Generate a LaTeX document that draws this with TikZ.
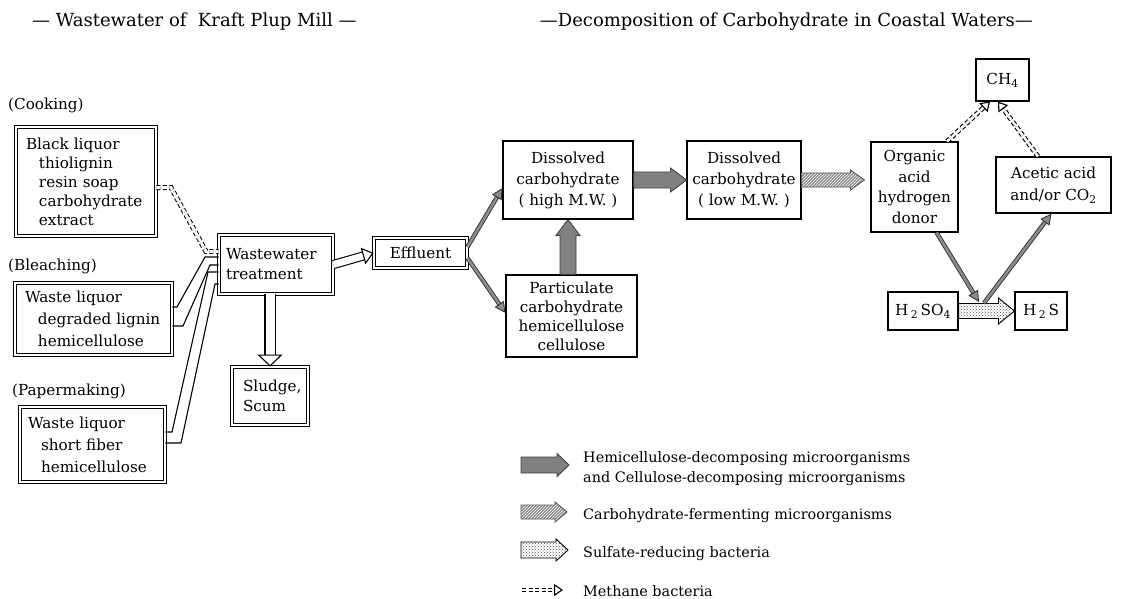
\documentclass[tikz,border=0pt]{standalone}
\usepackage{fontspec}
\setmainfont{DejaVu Serif}
\usetikzlibrary{arrows.meta,patterns,calc}
\newcommand\fatH[6]{\draw[#1] ($(#2)+(0,#4)$) -- ($(#3)+(-#6,#4)$) -- ($(#3)+(-#6,#5)$) -- (#3) -- ($(#3)+(-#6,-#5)$) -- ($(#3)+(-#6,-#4)$) -- ($(#2)+(0,-#4)$) -- cycle;}
\newcommand\fatV[6]{\draw[#1] ($(#2)+(#4,0)$) -- ($(#3)+(#4,#6)$) -- ($(#3)+(#5,#6)$) -- (#3) -- ($(#3)+(-#5,#6)$) -- ($(#3)+(-#4,#6)$) -- ($(#2)+(-#4,0)$) -- cycle;}
\begin{document}
\begin{tikzpicture}[x=1pt,y=-1pt,
  txt/.style={font=\fontsize{15.2}{20}\selectfont},
  dbox/.style={draw, double, double distance=1.5pt, line width=0.8pt, txt, inner sep=0pt},
  sbox/.style={draw, line width=1.1pt, txt, align=center, inner sep=0pt},
  lab/.style={txt, inner sep=0pt, anchor=base west},
  ttl/.style={font=\fontsize{18}{20}\selectfont, inner sep=0pt},
  leg/.style={font=\fontsize{14.4}{18}\selectfont, inner sep=0pt, anchor=base west},
  thinline/.style={line width=1.1pt},
  dd/.style={double, double distance=3pt, line width=1pt, dash pattern=on 4pt off 2.5pt},
  hollow/.style={double, double distance=7pt, line width=1.1pt, -{Triangle[open, length=11pt, width=17pt, line width=1.1pt]}},
  hollowv/.style={double, double distance=9pt, line width=1.1pt, -{Triangle[open, length=12pt, width=25pt, line width=1.1pt]}},
  meth/.style={double, double distance=2.6pt, line width=1.1pt, dash pattern=on 4pt off 2.5pt, -{Triangle[open, length=9pt, width=12pt, line width=1.1pt]}},
  garrow/.style={draw=black!80, double=black!45, double distance=2.6pt, line width=0.9pt, -{Triangle[length=11pt, width=11pt, fill=black!45, line width=0.9pt]}},
  gfat/.style={draw=black!75, line width=0.9pt, fill=black!50},
  hfat/.style={draw=black!65, line width=0.9pt, preaction={fill=black!45}, pattern=north east lines, pattern color=white},
  dfat/.style={draw=black, line width=0.9pt, preaction={fill=white}, pattern=crosshatch dots, pattern color=black!70},
]
\useasboundingbox (0,0) rectangle (1122,599);

% titles
\node[ttl, anchor=base west] (title1) at (32,27) {— Wastewater of\ \ Kraft Plup Mill —};
\node[ttl, anchor=base east] (title2) at (1033,27) {—Decomposition of Carbohydrate in Coastal Waters—};

% left column
\node[lab] (cookl) at (8,110) {(Cooking)};
\node[dbox, font=\fontsize{15.2}{19}\selectfont, minimum width=140pt, minimum height=109pt, text width=120pt, inner xsep=10pt, align=left] (black) at (86,181.5)
  {Black~liquor\\\hspace*{13pt}thiolignin\\\hspace*{13pt}resin~soap\\\hspace*{13pt}carbohydrate\\\hspace*{13pt}extract};
\node[lab] (bleachl) at (8,270) {(Bleaching)};
\node[dbox, font=\fontsize{15.2}{22}\selectfont, minimum width=157pt, minimum height=72pt, text width=137pt, inner xsep=10pt, align=left] (bleach) at (93.5,319)
  {Waste~liquor\\\hspace*{13pt}degraded~lignin\\\hspace*{13pt}hemicellulose};
\node[lab] (paperl) at (12,395) {(Papermaking)};
\node[dbox, font=\fontsize{15.2}{22}\selectfont, minimum width=145pt, minimum height=75pt, text width=129pt, inner xsep=8pt, align=left] (paper) at (92.5,444.5)
  {Waste~liquor\\\hspace*{13pt}short~fiber\\\hspace*{13pt}hemicellulose};

\node[dbox, minimum width=114pt, minimum height=59pt, text width=100pt, inner xsep=7pt, align=left] (ww) at (276,264.5) {Wastewater\\treatment};
\node[dbox, minimum width=93pt, minimum height=30pt, align=center] (eff) at (420.5,253) {Effluent};
\node[dbox, minimum width=76pt, minimum height=58pt, text width=54pt, inner xsep=11pt, align=left] (sludge) at (270,396) {Sludge,\\Scum};

% right part
\node[sbox, font=\fontsize{15.2}{21}\selectfont, minimum width=130pt, minimum height=78pt] (dhigh) at (568,180) {Dissolved\\carbohydrate\\( high M.W. )};
\node[sbox, font=\fontsize{15.2}{21}\selectfont, minimum width=114pt, minimum height=78pt] (dlow) at (744,180) {Dissolved\\carbohydrate\\( low M.W. )};
\node[sbox, font=\fontsize{15.2}{19}\selectfont, minimum width=131pt, minimum height=82pt] (part) at (571.5,316) {Particulate\\carbohydrate\\hemicellulose\\cellulose};
\node[sbox, font=\fontsize{15.2}{20.5}\selectfont, minimum width=87pt, minimum height=90pt] (org) at (914.5,187) {Organic\\acid\\hydrogen\\donor};
\node[sbox, minimum width=53pt, minimum height=42pt] (ch4) at (1002.5,80) {CH\textsubscript{4}};
\node[sbox, font=\fontsize{15.2}{22}\selectfont, minimum width=115pt, minimum height=56pt] (acet) at (1053.5,185) {Acetic acid\\and/or CO\textsubscript{2}};
\node[sbox, minimum width=70pt, minimum height=38pt] (h2so4) at (923,311) {H\,\textsubscript{2}\,SO\textsubscript{4}};
\node[sbox, minimum width=52pt, minimum height=38pt] (h2s) at (1041,311) {H\,\textsubscript{2}\,S};

% left connectors
\draw[dd] ([yshift=-6pt]black.east) -- (171,187.5) -- (206,251.5) -- ([yshift=13pt]ww.west);
\draw[thinline] ([yshift=12pt]bleach.east) -- (177,307) -- (205,257) -- ([yshift=7.5pt]ww.west);
\draw[thinline] ([yshift=-7pt]bleach.east) -- (183,326) -- (210,265) -- ([yshift=-0.5pt]ww.west);
\draw[thinline] ([yshift=12.5pt]paper.east) -- (172,432) -- (208,272) -- ([yshift=-7.5pt]ww.west);
\draw[thinline] ([yshift=1.5pt]paper.east) -- (181,443) -- (215,284) -- ([yshift=-19.5pt]ww.west);

\draw[hollow] (ww.east) -- (eff.west);
\draw[hollowv] (ww.south -| sludge.north) -- (sludge.north);

% gray thin arrows from effluent
\draw[garrow] ([yshift=6pt]eff.east) -- ([yshift=-8pt]dhigh.west);
\draw[garrow] ([yshift=-5pt]eff.east) -- ([yshift=3pt]part.west);

% fat arrows
\coordinate (pv) at (part.north -| dhigh.south);
\coordinate (otip) at ($(org.west |- dlow.east)+(-6,0)$);
\fatH{gfat}{dhigh.east}{dlow.west}{8}{12}{16}
\fatV{gfat}{pv}{dhigh.south}{8}{12}{16}
\fatH{hfat}{dlow.east}{otip}{7}{10}{14}
\fatH{dfat}{h2so4.east}{h2s.west}{7.5}{13}{16}

% sulfate reduction coupling
\coordinate (m1) at (979,302);
\coordinate (m2) at (984,303);
\draw[garrow] ([xshift=22pt]org.south) -- (m1);
\draw[garrow] (m2) -- ([xshift=-2pt]acet.south);

% methane
\draw[meth] ([xshift=32.5pt]org.north) -- ([xshift=-12.5pt]ch4.south);
\draw[meth] ([xshift=-15.5pt]acet.north) -- ([xshift=-4.5pt]ch4.south);

% legend
\coordinate (lg1s) at (521,465); \coordinate (lg1e) at (569,465);
\coordinate (lg2s) at (521,512); \coordinate (lg2e) at (567,512);
\coordinate (lg3s) at (521,550); \coordinate (lg3e) at (568,550);
\coordinate (lg4s) at (522,590); \coordinate (lg4e) at (563,590);
\fatH{gfat}{lg1s}{lg1e}{8}{11.5}{12}
\fatH{hfat}{lg2s}{lg2e}{7}{10}{12}
\fatH{dfat}{lg3s}{lg3e}{8}{11}{12}
\draw[meth] (lg4s) -- (lg4e);
\node[leg] (t1) at (583,462) {Hemicellulose-decomposing\ microorganisms};
\node[leg] (t1b) at (583,482) {and Cellulose-decomposing\ microorganisms};
\node[leg] (t2) at (583,519) {Carbohydrate-fermenting\ microorganisms};
\node[leg] (t3) at (583,557) {Sulfate-reducing bacteria};
\node[leg] (t4) at (583,596) {Methane bacteria};
\end{tikzpicture}
\end{document}
